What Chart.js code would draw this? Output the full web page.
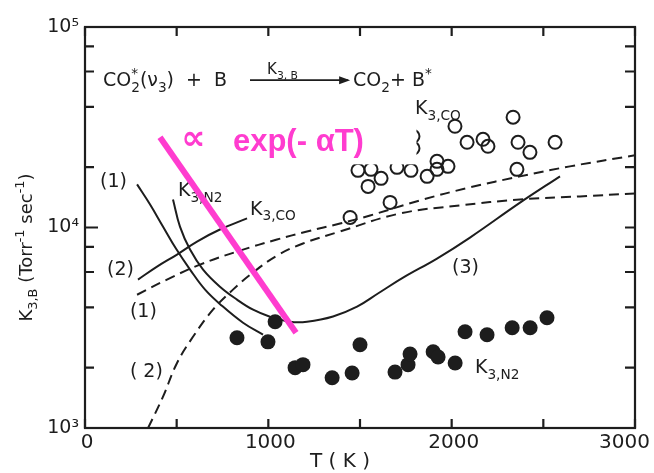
<!DOCTYPE html>
<html>
<head>
<meta charset="utf-8">
<script src="https://cdn.jsdelivr.net/npm/chart.js@4.4.0/dist/chart.umd.min.js"></script>
<style>
html, body { margin: 0; padding: 0; background: #fff; }
canvas { display: block; }
</style>
</head>
<body>
<canvas id="rateChart" width="654" height="473"></canvas>
<script>
// T in K, rate constants in Torr^-1 sec^-1

// measured K3,N2 (filled dots)
const n2T = [829, 998, 1037, 1146, 1189, 1348, 1457, 1500, 1691, 1762, 1773, 1899, 1926, 2019, 2073, 2193, 2330, 2428, 2520]
const n2K = [2820, 2690, 3390, 2000, 2070, 1780, 1880, 2600, 1900, 2070, 2340, 2400, 2260, 2110, 3020, 2920, 3160, 3160, 3550]

// measured K3,CO (open circles)
const coT = [1446, 1664, 1489, 1560, 1544, 1615, 1702, 1778, 1789, 1789, 1866, 1920, 1920, 1980, 2018, 2084, 2171, 2198, 2335, 2362, 2427, 2564, 2356]
const coK = [11220, 13340, 19280, 19500, 16030, 17580, 19950, 19280, 28510, 24830, 17990, 19500, 21380, 20180, 31990, 26610, 27540, 25410, 35480, 26610, 23710, 26610, 19500]

// theory, solid (1) for N2
const fit1T = [284, 355, 425, 496, 573, 655, 747, 862, 971]
const fit1K = [16410, 13030, 10120, 7850, 6170, 4900, 4070, 3350, 2920]

// theory, solid N2 curve through the minimum up to (3)
const fit3T = [480, 518, 573, 644, 736, 829, 917, 1009, 1118, 1211, 1353, 1484, 1600, 1735, 1920, 2100, 2373, 2591]
const fit3K = [13800, 10100, 7760, 6170, 5070, 4370, 3890, 3590, 3390, 3390, 3600, 4030, 4700, 5620, 7000, 8910, 13300, 18000]

// theory, solid (2) for CO
const fit2T = [289, 393, 502, 611, 736, 884]
const fit2K = [5500, 6380, 7330, 8510, 9770, 11100]

// theory, dashed (1) and (2)
const dash1T = [284, 447, 627, 845, 1047, 1211, 1391, 1555, 1827, 2100, 2373, 2645, 3000]
const dash1K = [4620, 5500, 6530, 7670, 8710, 9550, 10470, 11480, 13650, 15850, 17990, 20180, 22910]
const dash2T = [344, 425, 502, 589, 698, 807, 916, 1047, 1189, 1391, 1718, 2045, 2373, 2700, 3000]
const dash2K = [1000, 1430, 2110, 2850, 3890, 4900, 5960, 7240, 8320, 9550, 11750, 12880, 13800, 14290, 14790]

// exponential trend line
const expT = [409, 1151]
const expK = [28180, 2985]

// axes
const xTicks = [0, 500, 1000, 1500, 2000, 2500, 3000]
const xTickLabels = [0, 1000, 2000, 3000]
const yTicks = [1000, 2000, 4000, 6000, 8000, 10000, 20000, 40000, 60000, 80000, 100000]
const yDecadeLabels = { 1000: '10\u00b3', 10000: '10\u2074', 100000: '10\u2075' }

const INK = '#1d1d1d'
const MAGENTA = '#ff3ccf'
const FONT = '"DejaVu Sans", sans-serif'

function pairs(xs, ys) {
  return xs.map((x, i) => ({ x: x, y: ys[i] }))
}

function curve(xs, ys, dashed) {
  return {
    data: pairs(xs, ys),
    showLine: true,
    borderColor: INK,
    borderWidth: 2,
    borderDash: dashed ? [10, 6] : [],
    pointRadius: 0,
    tension: 0.4
  }
}

// labels on the plot, anchored at (T, K); part flags: 1 sub, -1 sup, 2 sup stacked over next
const notes = [
  { T: 82, K: 15850, parts: [['(1)', 0]] },
  { T: 507, K: 14290, parts: [['K', 0], ['3,N', 1], ['2', 1]] },
  { T: 900, K: 11610, parts: [['K', 0], ['3,CO', 1]] },
  { T: 120, K: 5820, parts: [['(2)', 0]] },
  { T: 245, K: 3590, parts: [['(1)', 0]] },
  { T: 245, K: 1800, parts: [['( 2)', 0]] },
  { T: 2002, K: 5960, parts: [['(3)', 0]] },
  { T: 2127, K: 1880, parts: [['K', 0], ['3,N', 1], ['2', 1]] },
  { T: 1800, K: 36700, parts: [['K', 0], ['3,CO', 1]] },
  { T: 98, K: 50700, parts: [['CO', 0], ['*', 2], ['2', 1], ['(\u03bd', 0], ['3', 1], [')  +  B', 0]] },
  { T: 1462, K: 50700, parts: [['CO', 0], ['2', 1], ['+ B', 0], ['*', -1]] },
  { T: 993, K: 58200, size: 15, parts: [['K', 0], ['3, B', 1]] }
]

function drawRich(ctx, x, y, parts, size, measureOnly) {
  let cx = x
  for (const [txt, flag] of parts) {
    const s = flag ? size * 0.72 : size
    ctx.font = s + 'px ' + FONT
    let dy = 0
    if (flag === 1) dy = size * 0.3
    if (flag === -1 || flag === 2) dy = -size * 0.45
    if (!measureOnly) ctx.fillText(txt, cx, y + dy)
    if (flag === 2) continue
    cx += ctx.measureText(txt).width
  }
  return cx - x
}

const plotDecor = {
  id: 'plotDecor',
  beforeDatasetsDraw(chart) {
    const { ctx, chartArea: a } = chart
    const xs = chart.scales.x, ys = chart.scales.y
    ctx.save()
    ctx.strokeStyle = INK
    ctx.lineWidth = 2.2
    ctx.strokeRect(a.left, a.top, a.right - a.left, a.bottom - a.top)
    ctx.beginPath()
    for (const v of xTicks) {
      const px = xs.getPixelForValue(v)
      ctx.moveTo(px, a.bottom); ctx.lineTo(px, a.bottom - 9)
      ctx.moveTo(px, a.top); ctx.lineTo(px, a.top + 9)
    }
    for (const v of yTicks) {
      const py = ys.getPixelForValue(v)
      const len = yDecadeLabels[v] ? 13 : 9
      ctx.moveTo(a.left, py); ctx.lineTo(a.left + len, py)
      ctx.moveTo(a.right, py); ctx.lineTo(a.right - 10, py)
    }
    ctx.stroke()
    ctx.restore()
  },
  beforeDatasetDraw(chart, args) {
    if (args.index !== 0) return
    const { ctx } = chart
    const xs = chart.scales.x, ys = chart.scales.y
    ctx.save()
    ctx.fillStyle = INK
    ctx.textBaseline = 'alphabetic'
    ctx.textAlign = 'left'
    for (const n of notes) {
      drawRich(ctx, xs.getPixelForValue(n.T), ys.getPixelForValue(n.K), n.parts, n.size || 19)
    }
    // reaction arrow
    const ay = ys.getPixelForValue(54300)
    const ax0 = xs.getPixelForValue(900), ax1 = xs.getPixelForValue(1446)
    ctx.strokeStyle = INK
    ctx.lineWidth = 1.6
    ctx.beginPath()
    ctx.moveTo(ax0, ay); ctx.lineTo(ax1 - 2, ay)
    ctx.stroke()
    ctx.beginPath()
    ctx.moveTo(ax1, ay); ctx.lineTo(ax1 - 11, ay - 4); ctx.lineTo(ax1 - 11, ay + 4); ctx.closePath()
    ctx.fill()

    // white label box with the trend formula
    const bx0 = xs.getPixelForValue(453), bx1 = xs.getPixelForValue(1808)
    const by0 = ys.getPixelForValue(40270), by1 = ys.getPixelForValue(20650)
    ctx.fillStyle = '#fff'
    ctx.fillRect(bx0, by0, bx1 - bx0, by1 - by0)
    ctx.fillStyle = MAGENTA
    const ty = ys.getPixelForValue(23990)
    ctx.font = 'bold 34px "DejaVu Sans", sans-serif'
    ctx.fillText('\u221d', xs.getPixelForValue(525), ty - 2)
    ctx.font = 'bold 31px "Liberation Sans", Arial, sans-serif'
    ctx.fillText('exp(- \u03b1T)', xs.getPixelForValue(807), ty)
    ctx.restore()
  },
  afterDraw(chart) {
    const { ctx, chartArea: a } = chart
    const xs = chart.scales.x
    ctx.save()
    ctx.fillStyle = INK
    ctx.font = '20px ' + FONT
    ctx.textBaseline = 'middle'
    for (const v of xTickLabels) {
      const px = xs.getPixelForValue(v)
      const txt = String(v)
      const w = ctx.measureText(txt).width
      ctx.textAlign = 'left'
      ctx.fillText(txt, Math.min(px + 2 - w / 2, chart.width - 4 - w), a.bottom + 15)
    }
    ctx.textAlign = 'center'
    ctx.fillText('T ( K )', (a.left + a.right) / 2 - 20, a.bottom + 34)

    // y title, rotated
    ctx.textAlign = 'left'
    ctx.textBaseline = 'alphabetic'
    const yParts = [['K', 0], ['3,B', 1], [' (Torr', 0], ['-1', -1], [' sec', 0], ['-1', -1], [')', 0]]
    const w = drawRich(ctx, 0, 0, yParts, 18, true)
    ctx.translate(32, (a.top + a.bottom) / 2 + 20)
    ctx.rotate(-Math.PI / 2)
    drawRich(ctx, -w / 2, 0, yParts, 18)
    ctx.restore()
  }
}

new Chart(document.getElementById('rateChart'), {
  type: 'scatter',
  data: {
    datasets: [
      {
        data: pairs(expT, expK),
        showLine: true,
        borderColor: MAGENTA,
        borderWidth: 6,
        pointRadius: 0
      },
      {
        data: pairs(n2T, n2K),
        pointRadius: 7.5,
        pointBackgroundColor: INK,
        pointBorderWidth: 0
      },
      {
        data: pairs(coT, coK),
        pointRadius: 6.5,
        pointBorderColor: INK,
        pointBorderWidth: 2,
        pointBackgroundColor: 'rgba(0,0,0,0)'
      },
      curve(fit1T, fit1K, false),
      curve(fit3T, fit3K, false),
      curve(fit2T, fit2K, false),
      curve(dash1T, dash1K, true),
      curve(dash2T, dash2K, true)
    ]
  },
  options: {
    responsive: false,
    animation: false,
    devicePixelRatio: 1,
    events: [],
    layout: { padding: { top: 27, right: 19, left: 0, bottom: 0 } },
    plugins: { legend: { display: false }, tooltip: { enabled: false } },
    scales: {
      x: {
        type: 'linear',
        min: 0,
        max: 3000,
        afterBuildTicks: s => { s.ticks = xTicks.map(v => ({ value: v })) },
        ticks: { display: false },
        grid: { display: false, drawTicks: false },
        border: { display: false },
        afterFit: s => { s.height = 45 }
      },
      y: {
        type: 'logarithmic',
        min: 1000,
        max: 100000,
        afterBuildTicks: s => { s.ticks = yTicks.map(v => ({ value: v })) },
        ticks: {
          autoSkip: false,
          padding: 6,
          color: INK,
          font: { family: 'DejaVu Sans', size: 19 },
          callback: v => yDecadeLabels[v] || ''
        },
        grid: { display: false, drawTicks: false },
        border: { display: false },
        afterFit: s => { s.width = 85 }
      }
    }
  },
  plugins: [plotDecor]
})
</script>
</body>
</html>
